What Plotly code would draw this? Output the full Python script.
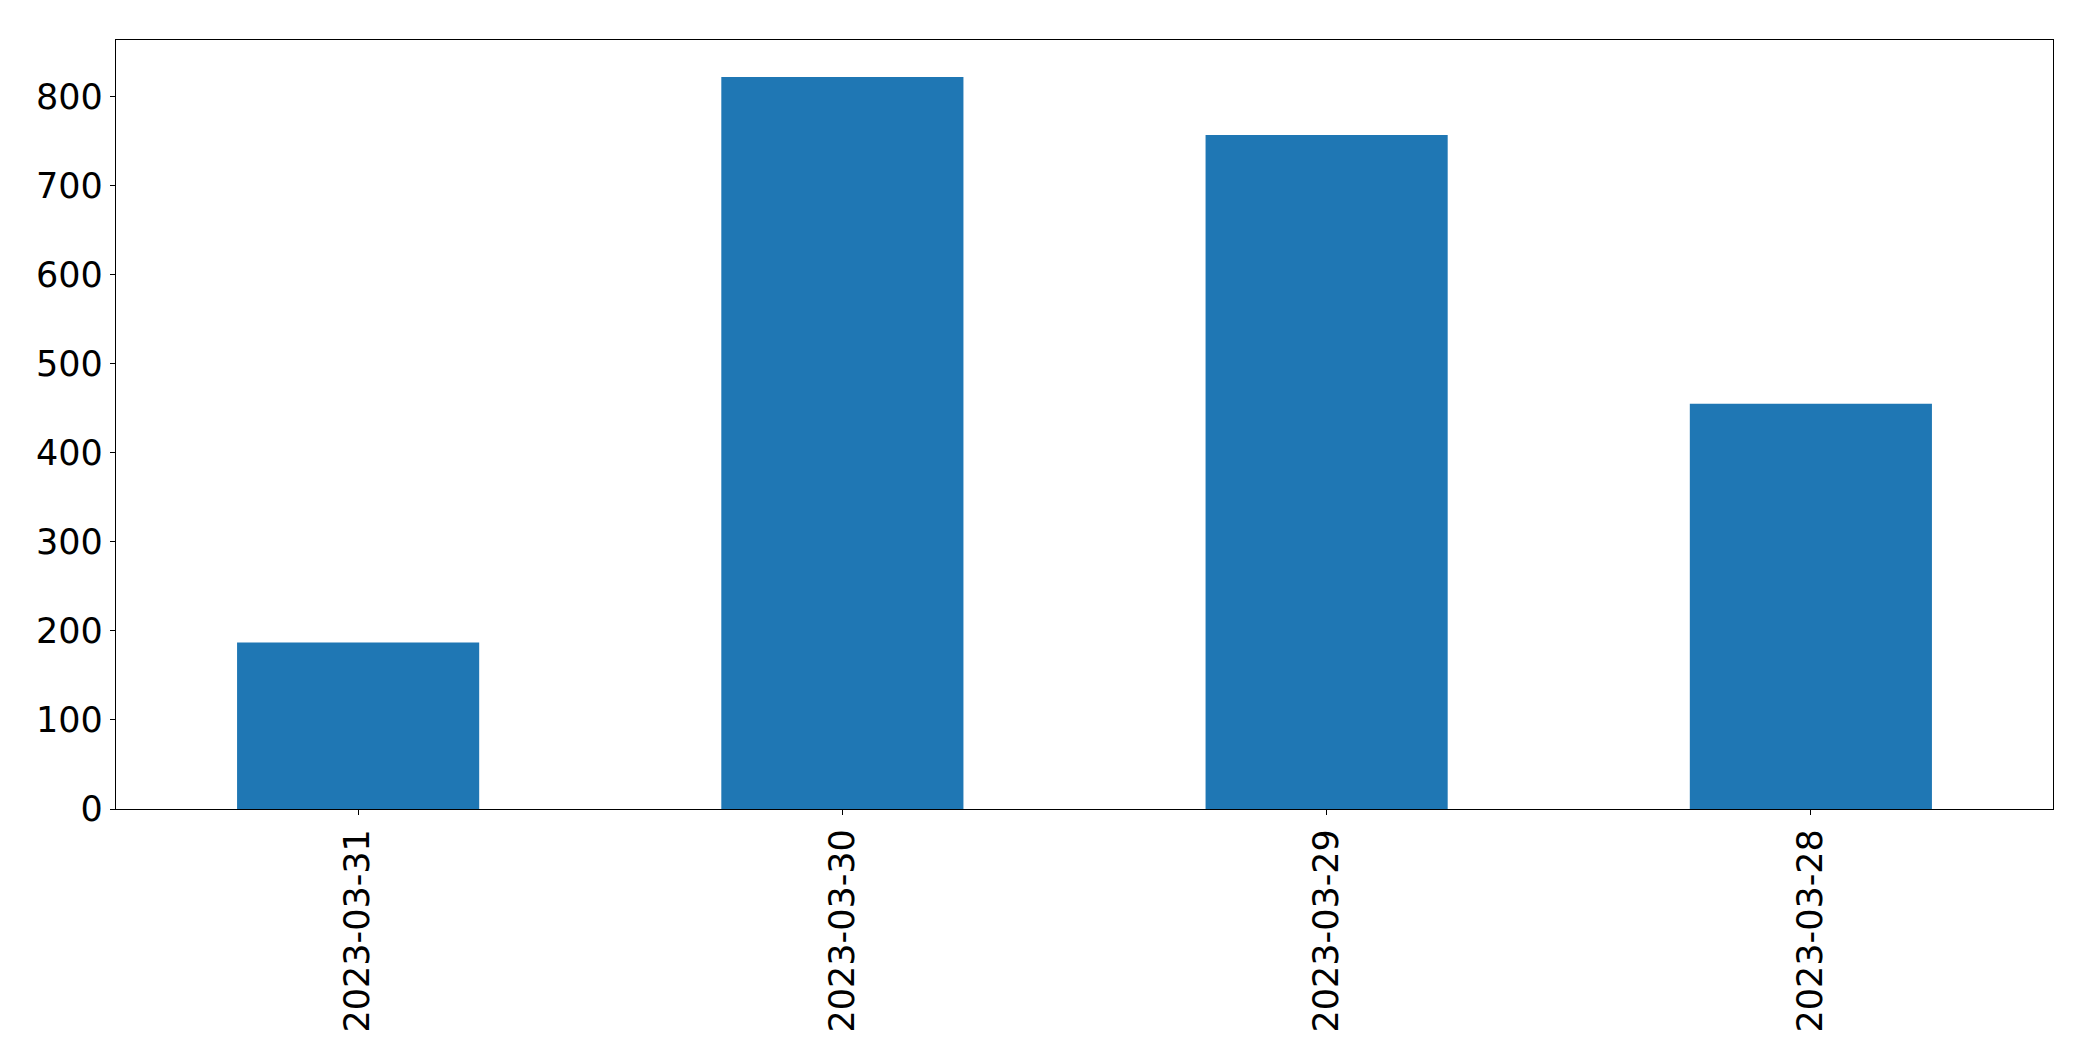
import plotly.graph_objects as go

categories = ["2023-03-31", "2023-03-30", "2023-03-29", "2023-03-28"]
values = [187, 822, 757, 455]

fig = go.Figure(go.Bar(x=categories, y=values, marker=dict(color="#1f77b4", line=dict(width=0)), width=0.5))

font = dict(family="DejaVu Sans", size=35, color="black")
fig.update_layout(
    width=2093, height=1061,
    margin=dict(l=108, r=48, t=32, b=260),
    paper_bgcolor="white", plot_bgcolor="white",
    showlegend=False,
    font=font,
)
fig.update_xaxes(
    type="category", range=[-0.5, 3.5],
    showline=True, linecolor="black", linewidth=1.3, mirror=True,
    ticks="outside", ticklen=5, tickwidth=1.3, tickcolor="black",
    tickangle=-90, showgrid=False, tickfont=font,
)
fig.update_yaxes(
    range=[0, 863.6], tickvals=[0, 100, 200, 300, 400, 500, 600, 700, 800],
    showline=True, linecolor="black", linewidth=1.3, mirror=True,
    ticks="outside", ticklen=5, tickwidth=1.3, tickcolor="black",
    showgrid=False, zeroline=False, tickfont=font,
)
fig.write_html("out.html")
